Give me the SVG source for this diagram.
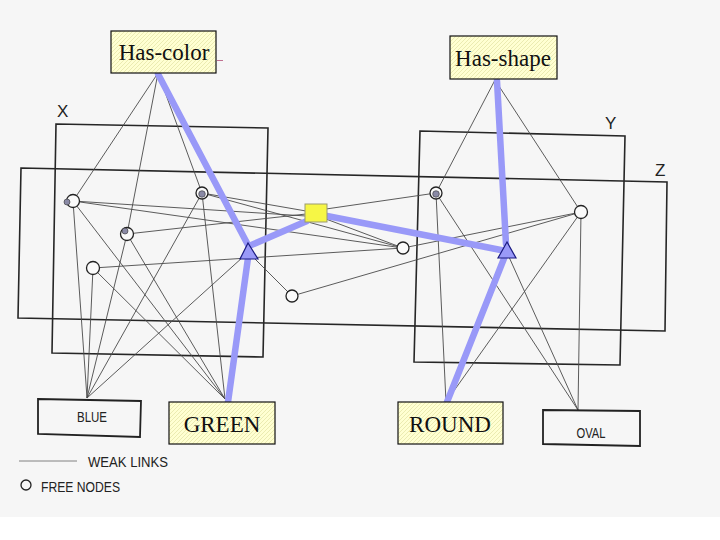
<svg xmlns="http://www.w3.org/2000/svg" width="720" height="540" viewBox="0 0 720 540">
<defs>
<pattern id="hatch" patternUnits="userSpaceOnUse" width="4" height="4">
<rect width="4" height="4" fill="#ffffd2"/>
<path d="M-1,1 L1,-1 M0,4 L4,0 M3,5 L5,3" stroke="#e6e6a8" stroke-width="0.8"/>
</pattern>
<style>
.frame{fill:none;stroke:#262626;stroke-width:1.6}
.weak{stroke:#4a4a4a;stroke-width:0.9;fill:none}
.strong{stroke:#9999f8;stroke-width:6.5;stroke-linecap:round;fill:none}
.lbl{fill:url(#hatch);stroke:#111;stroke-width:1.2}
.serif{font-family:"Liberation Serif","Times New Roman",serif;font-size:23px;fill:#111;text-anchor:middle}
.sans{font-family:"Liberation Sans",Arial,sans-serif;fill:#222}
.free{fill:#fafafa;stroke:#222;stroke-width:1.3}
.dot{fill:#8a8aa6;stroke:#333;stroke-width:0.6}
.tri{fill:#9999f8;stroke:#1a1a80;stroke-width:1.2}
.plain{fill:#f6f6f6;stroke:#222;stroke-width:1.8}
</style>
</defs>
<rect x="0" y="0" width="720" height="540" fill="#ffffff"/>
<rect x="0" y="0" width="720" height="517" fill="#f6f6f6"/>

<g id="frames">
<polygon class="frame" points="56,124 268,128 263,357 52,353"/>
<polygon class="frame" points="21,168 667,182 665,331 18,318"/>
<polygon class="frame" points="420,131 625,136 620,365 414,362"/>
<text class="sans" x="57" y="117" font-size="17">X</text>
<text class="sans" x="605" y="129" font-size="17">Y</text>
<text class="sans" x="655" y="176" font-size="17">Z</text>
</g>

<g id="connectors">
<line class="weak" x1="158" y1="73" x2="73" y2="201"/>
<line class="weak" x1="158" y1="73" x2="127" y2="234"/>
<line class="weak" x1="158" y1="73" x2="202" y2="193"/>
<line class="weak" x1="495" y1="80" x2="436" y2="193"/>
<line class="weak" x1="495" y1="80" x2="581" y2="212"/>
<line class="weak" x1="73" y1="201" x2="306" y2="216"/>
<line class="weak" x1="73" y1="201" x2="403" y2="248"/>
<line class="weak" x1="202" y1="193" x2="306" y2="211"/>
<line class="weak" x1="202" y1="193" x2="403" y2="248"/>
<line class="weak" x1="127" y1="234" x2="306" y2="214"/>
<line class="weak" x1="93" y1="268" x2="403" y2="248"/>
<line class="weak" x1="292" y1="296" x2="252" y2="256"/>
<line class="weak" x1="292" y1="296" x2="581" y2="212"/>
<line class="weak" x1="326" y1="219" x2="403" y2="248"/>
<line class="weak" x1="326" y1="209" x2="436" y2="193"/>
<line class="weak" x1="403" y1="248" x2="581" y2="212"/>
<line class="weak" x1="243" y1="257" x2="87" y2="398"/>
<line class="weak" x1="73" y1="201" x2="87" y2="398"/>
<line class="weak" x1="127" y1="234" x2="87" y2="398"/>
<line class="weak" x1="93" y1="268" x2="87" y2="398"/>
<line class="weak" x1="202" y1="193" x2="87" y2="398"/>
<line class="weak" x1="73" y1="201" x2="225" y2="399"/>
<line class="weak" x1="93" y1="268" x2="225" y2="399"/>
<line class="weak" x1="127" y1="234" x2="225" y2="399"/>
<line class="weak" x1="202" y1="193" x2="225" y2="399"/>
<line class="weak" x1="436" y1="193" x2="446" y2="402"/>
<line class="weak" x1="581" y1="212" x2="446" y2="402"/>
<line class="weak" x1="436" y1="193" x2="578" y2="410"/>
<line class="weak" x1="509" y1="257" x2="578" y2="410"/>
<line class="weak" x1="581" y1="212" x2="578" y2="410"/>
<line class="strong" x1="158" y1="74" x2="248" y2="245"/>
<line class="strong" x1="249" y1="246" x2="307" y2="221"/>
<line class="strong" x1="248" y1="258" x2="228" y2="402"/>
<line class="strong" x1="327" y1="216" x2="506" y2="251"/>
<line class="strong" x1="497" y1="81" x2="506" y2="244"/>
<line class="strong" x1="505" y1="256" x2="447" y2="402"/>
</g>

<g id="n1"><circle class="free" cx="73" cy="201" r="6.5"/><circle class="dot" cx="67" cy="202" r="3"/></g>
<g id="n2"><circle class="free" cx="202" cy="193" r="6"/><circle class="dot" cx="202" cy="194" r="3.3"/></g>
<g id="n3"><circle class="free" cx="127" cy="234" r="6.5"/><circle class="dot" cx="125" cy="231" r="3"/></g>
<g id="n4"><circle class="free" cx="93" cy="268" r="6.5"/></g>
<g id="n5"><circle class="free" cx="292" cy="296" r="6"/></g>
<g id="n6"><circle class="free" cx="403" cy="248" r="6"/></g>
<g id="n7"><circle class="free" cx="436" cy="193" r="6"/><circle class="dot" cx="436" cy="194" r="3.3"/></g>
<g id="n8"><circle class="free" cx="581" cy="212" r="6.5"/></g>
<g id="square"><rect x="305" y="204" width="22" height="18" fill="#f6f645" stroke="#9a9a70" stroke-width="1"/></g>
<g id="triL"><polygon class="tri" points="248,243 240,259 258,259"/></g>
<g id="triR"><polygon class="tri" points="507,242 498,258 516,258"/></g>

<g id="has-color"><rect class="lbl" x="111" y="31" width="105" height="42"/><text class="serif" x="164" y="60">Has-color</text>
<line x1="217" y1="60.5" x2="223" y2="60.5" stroke="#c07090" stroke-width="1"/></g>
<g id="has-shape"><rect class="lbl" x="450" y="36" width="107" height="43"/><text class="serif" x="503" y="66">Has-shape</text></g>
<g id="green"><rect class="lbl" x="169" y="402" width="106" height="42"/><text class="serif" x="222" y="432">GREEN</text></g>
<g id="round"><rect class="lbl" x="398" y="402" width="105" height="42"/><text class="serif" x="450" y="432">ROUND</text></g>
<g id="blue"><polygon class="plain" points="38,399 141,401 140,437 38,434"/><text class="sans" x="92" y="422" font-size="14.5" text-anchor="middle" textLength="30" lengthAdjust="spacingAndGlyphs">BLUE</text></g>
<g id="oval"><polygon class="plain" points="543,410 640,411 640,446 543,444"/><text class="sans" x="591" y="438" font-size="14.5" text-anchor="middle" textLength="29" lengthAdjust="spacingAndGlyphs">OVAL</text></g>

<g id="legend">
<line x1="19" y1="461" x2="77" y2="461" stroke="#666" stroke-width="0.8"/>
<text class="sans" x="88" y="467" font-size="15" textLength="80" lengthAdjust="spacingAndGlyphs">WEAK  LINKS</text>
<circle cx="26" cy="485" r="5" fill="none" stroke="#222" stroke-width="1.3"/>
<text class="sans" x="41" y="492" font-size="15" textLength="79" lengthAdjust="spacingAndGlyphs">FREE NODES</text>
</g>
</svg>
